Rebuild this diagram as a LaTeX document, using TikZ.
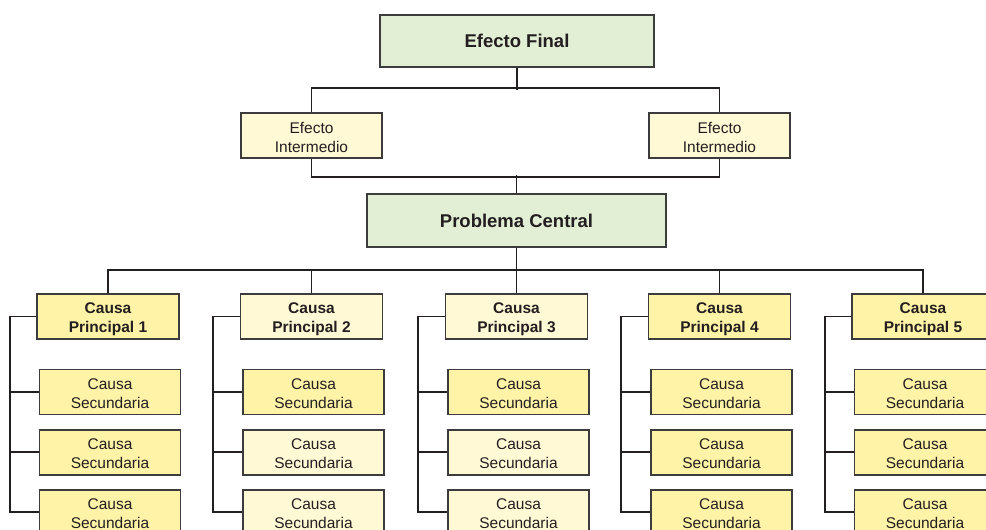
\documentclass[tikz,border=0pt]{standalone}
\usepackage{fontspec}
\setmainfont{Liberation Sans}
\definecolor{txt}{HTML}{231F20}
\definecolor{boxline}{HTML}{3C3C3C}
\definecolor{green}{HTML}{E3EFD5}
\definecolor{dark}{HTML}{FEF3A6}
\definecolor{light}{HTML}{FFF9D5}
% strut giving every text line the same height and depth
\newcommand\lstrut{\rule[-2pt]{0pt}{18pt}}
\begin{document}
\begin{tikzpicture}[x=1pt,y=-1pt,
  box/.style={draw=boxline, line width=1.4pt, inner sep=0pt, align=center,
    text=txt, font=\fontsize{15.5}{19}\selectfont},
  big/.style={box, fill=green, font=\fontsize{18.5}{22}\selectfont\bfseries},
  small/.style={box, minimum width=141, minimum height=45},
  conn/.style={draw=txt, line width=1.7pt}]
\useasboundingbox (0,0) rectangle (986,530);
\clip (0,0) rectangle (986,530);

% top of the tree
\node[big, minimum width=274, minimum height=52] (ef) at (517,41) {Efecto Final};
\node[small, fill=light] (eiL) at (311.5,135.5) {\lstrut Efecto\\\lstrut Intermedio};
\node[small, fill=light] (eiR) at (719.5,135.5) {\lstrut Efecto\\\lstrut Intermedio};
\node[big, minimum width=299, minimum height=53] (pc) at (516.5,220.5) {Problema Central};

\draw[conn] (ef.south) -- ++(0,22);
\draw[conn] (eiL.north) -- ++(0,-24) -| (eiR.north);
\draw[conn] (eiL.south) -- ++(0,18) -| (eiR.south);
\draw[conn] (pc.north) -- ++(0,-18);

% causes, one column per main cause
\foreach \i/\x/\cp/\sa/\sb/\sc in {
    1/108/dark/dark/dark/dark,
    2/311.5/light/dark/light/light,
    3/516.5/light/dark/light/light,
    4/719.5/dark/dark/dark/dark,
    5/923/dark/dark/dark/dark} {
  \node[small, fill=\cp, minimum width=142, font=\fontsize{15.5}{19}\selectfont\bfseries]
    (cp\i) at (\x,316.5) {\lstrut Causa\\\lstrut Principal \i};
  \node[small, fill=\sa] (s\i a) at (\x+2,392) {\lstrut Causa\\\lstrut Secundaria};
  \node[small, fill=\sb] (s\i b) at (\x+2,452.3) {\lstrut Causa\\\lstrut Secundaria};
  \node[small, fill=\sc] (s\i c) at (\x+2,512.3) {\lstrut Causa\\\lstrut Secundaria};
  \draw[conn] (cp\i.west) -- ++(-26.5,0) coordinate (rail\i) |- (s\i c.west);
  \draw[conn] (rail\i |- s\i a.west) -- (s\i a.west);
  \draw[conn] (rail\i |- s\i b.west) -- (s\i b.west);
}

% bus under the central problem
\draw[conn] (pc.south) -- (cp3.north);
\draw[conn] (cp1.north) -- ++(0,-23.5) -| (cp5.north);
\draw[conn] (cp2.north) -- ++(0,-23.5);
\draw[conn] (cp4.north) -- ++(0,-23.5);
\end{tikzpicture}
\end{document}
